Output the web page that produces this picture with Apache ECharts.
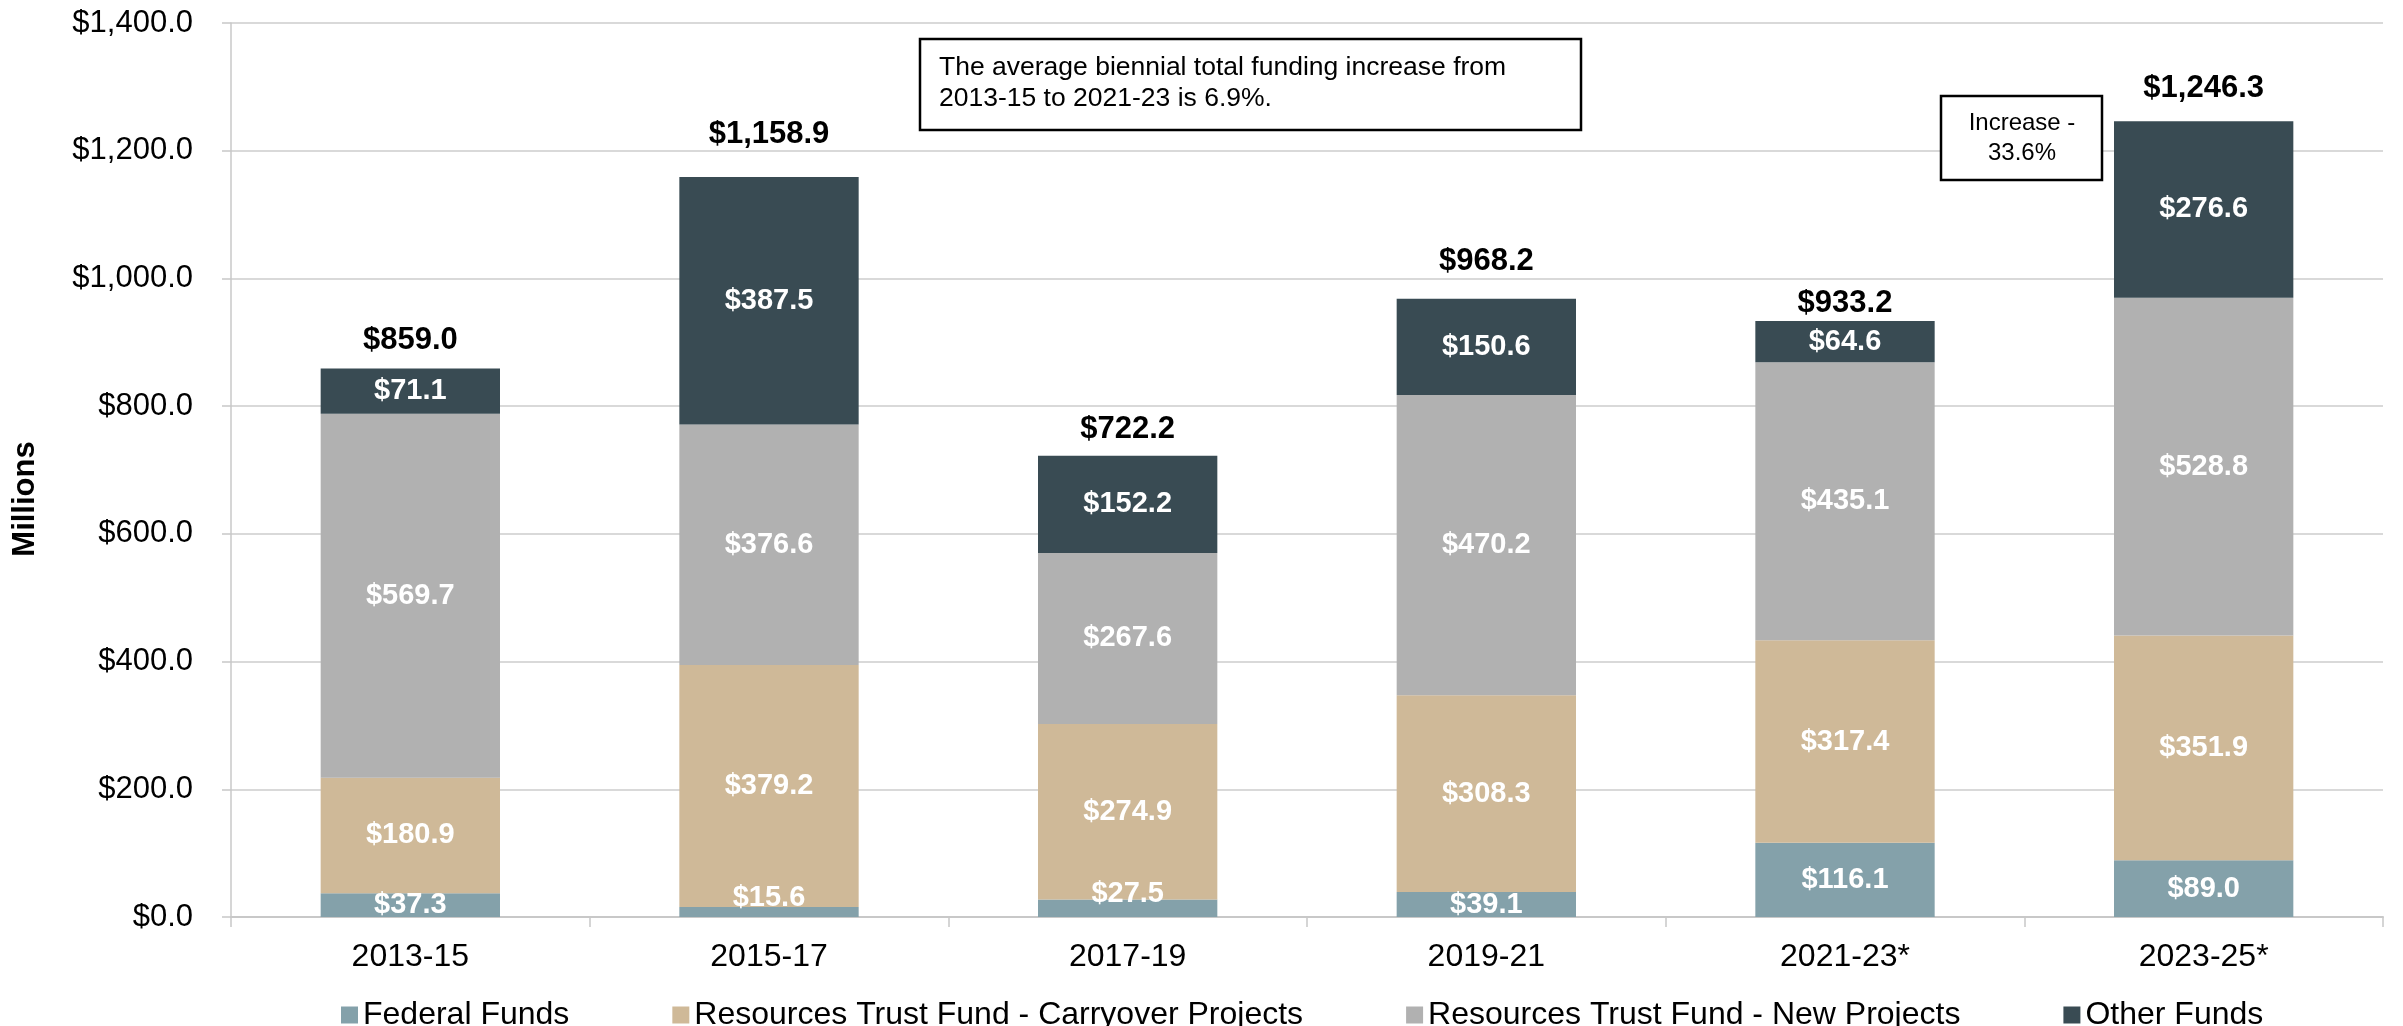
<!DOCTYPE html>
<html>
<head>
<meta charset="utf-8">
<script src="https://cdn.jsdelivr.net/npm/echarts@6/dist/echarts.min.js"></script>
<style>
  html, body { margin: 0; padding: 0; background: #fff; }
  #chart { width: 2403px; height: 1026px; }
</style>
</head>
<body>
<div id="chart"></div>
<script>
// biennium categories
const categories = ['2013-15', '2015-17', '2017-19', '2019-21', '2021-23*', '2023-25*'];
// values in $ millions
const federalFunds = [37.3, 15.6, 27.5, 39.1, 116.1, 89.0];
const rtfCarryover = [180.9, 379.2, 274.9, 308.3, 317.4, 351.9];
const rtfNew = [569.7, 376.6, 267.6, 470.2, 435.1, 528.8];
const otherFunds = [71.1, 387.5, 152.2, 150.6, 64.6, 276.6];
const totals = [859.0, 1158.9, 722.2, 968.2, 933.2, 1246.3];

// the total labels were hand-placed in the original, so nudge each one (px)
const totalLabelNudge = [-2, 13, -4, 7, -12, 3];

const FONT = "'Liberation Sans', Arial, sans-serif";

function money(v) {
  return '$' + Number(v).toLocaleString('en-US', { minimumFractionDigits: 1, maximumFractionDigits: 1 });
}

const segLabel = {
  show: true,
  position: 'inside',
  color: '#fff',
  fontFamily: FONT,
  fontWeight: 'bold',
  fontSize: 29,
  formatter: p => money(p.value)
};

function stackSeries(name, values, color) {
  return {
    name: name,
    type: 'bar',
    stack: 'total',
    barWidth: '50%',
    itemStyle: { color: color },
    label: segLabel,
    // tiny bars: Excel pushes the label up above the sliver
    data: values.map(v => v < 30 ? { value: v, label: { offset: [0, -14] } } : v)
  };
}

const chart = echarts.init(document.getElementById('chart'));
const option = {
  animation: false,
  grid: { left: 231, right: 20, top: 23, bottom: 109 },
  legend: {
    left: 336,
    top: 994,
    itemWidth: 17,
    itemHeight: 17,
    itemGap: 103,
    icon: 'rect',
    textStyle: { fontFamily: FONT, fontSize: 32, color: '#000' },
    data: ['Federal Funds', 'Resources Trust Fund - Carryover Projects', 'Resources Trust Fund - New Projects', 'Other Funds']
  },
  xAxis: {
    type: 'category',
    data: categories,
    axisLine: { lineStyle: { color: '#C8C8C8', width: 2 } },
    axisTick: { show: true, length: 10, lineStyle: { color: '#C8C8C8', width: 1.5 } },
    axisLabel: { margin: 24, color: '#000', fontFamily: FONT, fontSize: 32 }
  },
  yAxis: {
    type: 'value',
    min: 0,
    max: 1400,
    interval: 200,
    axisLine: { show: true, lineStyle: { color: '#C8C8C8', width: 1.5 } },
    axisTick: { show: true, length: 9, lineStyle: { color: '#C8C8C8', width: 1.5 } },
    splitLine: { lineStyle: { color: '#CCCCCC', width: 1.5 } },
    axisLabel: { margin: 38, color: '#000', fontFamily: FONT, fontSize: 31, formatter: v => money(v) }
  },
  series: [
    stackSeries('Federal Funds', federalFunds, '#84A1AA'),
    stackSeries('Resources Trust Fund - Carryover Projects', rtfCarryover, '#CFB998'),
    stackSeries('Resources Trust Fund - New Projects', rtfNew, '#B1B1B1'),
    stackSeries('Other Funds', otherFunds, '#394B53'),
    {
      name: 'Total',
      type: 'line',
      data: totals.map((v, i) => ({ value: v, label: { distance: 14 + totalLabelNudge[i] } })),
      symbol: 'circle',
      symbolSize: 1,
      showSymbol: true,
      itemStyle: { color: 'rgba(0,0,0,0)' },
      lineStyle: { opacity: 0 },
      z: 10,
      label: {
        show: true,
        position: 'top',
        distance: 14,
        color: '#000',
        fontFamily: FONT,
        fontWeight: 'bold',
        fontSize: 31,
        formatter: p => money(p.value)
      }
    }
  ],
  graphic: [
    {
      type: 'text',
      x: 25,
      y: 499,
      rotation: Math.PI / 2,
      style: { text: 'Millions', font: 'bold 31px ' + FONT, fill: '#000', align: 'center', verticalAlign: 'middle' }
    },
    {
      type: 'rect',
      shape: { x: 920, y: 39, width: 661, height: 91 },
      style: { fill: '#fff', stroke: '#000', lineWidth: 2.5 },
      z: 100
    },
    {
      type: 'text',
      x: 939,
      y: 83,
      z: 101,
      style: {
        text: 'The average biennial total funding increase from\n2013-15 to 2021-23 is 6.9%.',
        font: '26.5px ' + FONT,
        lineHeight: 31,
        fill: '#000',
        align: 'left',
        verticalAlign: 'middle'
      }
    },
    {
      type: 'rect',
      shape: { x: 1941, y: 96, width: 161, height: 84 },
      style: { fill: '#fff', stroke: '#000', lineWidth: 2.5 },
      z: 100
    },
    {
      type: 'text',
      x: 2022,
      y: 138,
      z: 101,
      style: {
        text: 'Increase -\n33.6%',
        font: '24px ' + FONT,
        lineHeight: 30,
        fill: '#000',
        align: 'center',
        verticalAlign: 'middle'
      }
    }
  ]
};
chart.setOption(option);
window.addEventListener('resize', () => { chart.resize(); });
</script>
</body>
</html>
